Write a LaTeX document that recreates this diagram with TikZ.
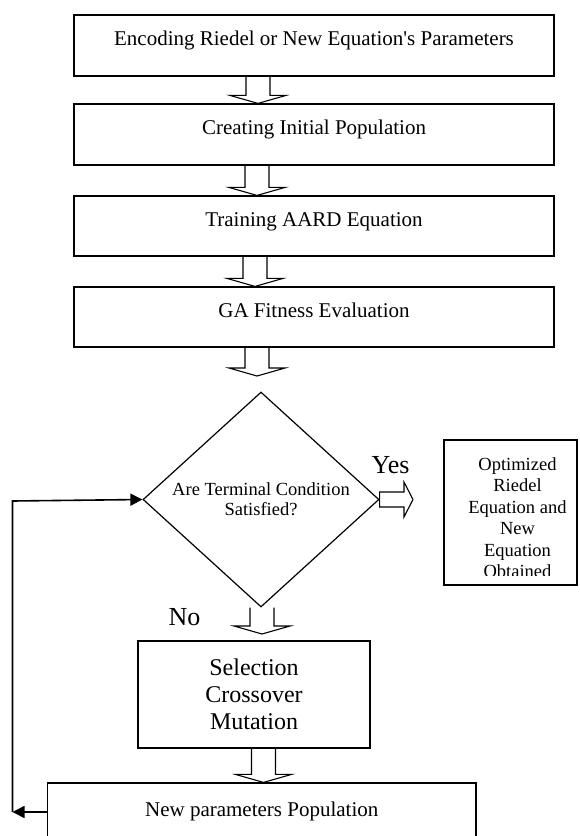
\documentclass[tikz,border=0pt]{standalone}
\usepackage{fontspec}
\setmainfont{Liberation Serif}[Ligatures=TeXOff]
\usetikzlibrary{shapes.geometric,arrows.meta,calc}
\newcommand\blkdown[3]{%
  \draw[blk] let \p1=(#2), \p2=(#3) in
    (#1pt-12pt,\y1) -- (#1pt-12pt,\y2+8pt) -- (#1pt-28pt,\y2+8pt) -- (#1pt,\y2)
    -- (#1pt+28pt,\y2+8pt) -- (#1pt+12pt,\y2+8pt) -- (#1pt+12pt,\y1);}
\begin{document}
\begin{tikzpicture}[x=1pt,y=-1pt,
  stepbox/.style={draw,line width=1.2pt,minimum width=480pt,minimum height=61pt,inner sep=0pt,
    font=\fontsize{21}{24}\selectfont,text height=10pt,text depth=10pt},
  plainbox/.style={draw,line width=1.2pt,inner sep=0pt},
  blk/.style={line width=1.1pt,line join=miter},
  loopline/.style={line width=1.6pt,line join=miter},
  tipend/.style={-{Triangle[length=12pt,width=12pt]}},
  yn/.style={font=\fontsize{26}{30}\selectfont,anchor=base,inner sep=0pt}]
\useasboundingbox (0,0) rectangle (579,836);
% main steps
\node[stepbox] (b1) at (314,45.5) {Encoding Riedel or New Equation's Parameters};
\node[stepbox] (b2) at (314,134.5) {Creating Initial Population};
\node[stepbox,minimum height=60pt] (b3) at (314,226) {Training AARD Equation};
\node[stepbox,minimum height=60pt] (b4) at (314,317) {GA Fitness Evaluation};
% decision
\node[draw,diamond,aspect=1.1,minimum width=236pt,minimum height=215pt,inner sep=0pt,
  line width=1.2pt,align=center,font=\fontsize{18.5}{20}\selectfont] (dia) at (261,499.5)
  {Are Terminal Condition\\Satisfied?};
% selection
\node[plainbox,minimum width=232pt,minimum height=107pt,align=center,
  font=\fontsize{24}{27}\selectfont] (sel) at (254,694.5) {Selection\\Crossover\\Mutation};
% new population
\node[plainbox,minimum width=428.5pt,minimum height=66pt,font=\fontsize{21}{24}\selectfont,
  text height=10pt,text depth=10pt] (np) at (261.75,816) {New parameters Population};
% optimized result
\node[plainbox,minimum width=133pt,minimum height=145pt] (opt) at (510.5,512.5) {};
\begin{scope}
  \clip (440,430) rectangle (579,575.5);
  \node[anchor=north,inner sep=0pt,align=center,font=\fontsize{18.5}{21.5}\selectfont]
    (optt) at (517.5,457) {Optimized\\Riedel\\Equation and\\New\\Equation\\Obtained};
\end{scope}
% labels
\node[yn] (yes) at (390.5,473) {Yes};
\node[yn] (no) at (184.5,625) {No};
% block arrows
\coordinate (a4tip) at (257,376);
\coordinate (a5tip) at (262,634);
\coordinate (yestip) at (413,499.5);
\blkdown{258}{b1.south}{b2.north}
\blkdown{257}{b2.south}{b3.north}
\blkdown{255}{b3.south}{b4.north}
\blkdown{257}{b4.south}{a4tip}
\blkdown{262}{dia.south}{a5tip}
\blkdown{263.5}{sel.south}{np.north}
\draw[blk] let \p1=(dia.east), \p2=(yestip) in
  (\x1,\y1+7.5pt) -- (\x2-9pt,\y1+7.5pt) -- (\x2-9pt,\y1+17.5pt) -- (\x2,\y1)
  -- (\x2-9pt,\y1-17.5pt) -- (\x2-9pt,\y1-7.5pt) -- (\x1,\y1-7.5pt) -- cycle;
% loop back
\coordinate (lc1) at (12.5,812);
\coordinate (lc2) at (12.5,501);
\draw[loopline,tipend] ([yshift=4pt]np.west) -- (lc1);
\draw[loopline,tipend] (lc1) -- (lc2) -- (dia.west);
\end{tikzpicture}
\end{document}
